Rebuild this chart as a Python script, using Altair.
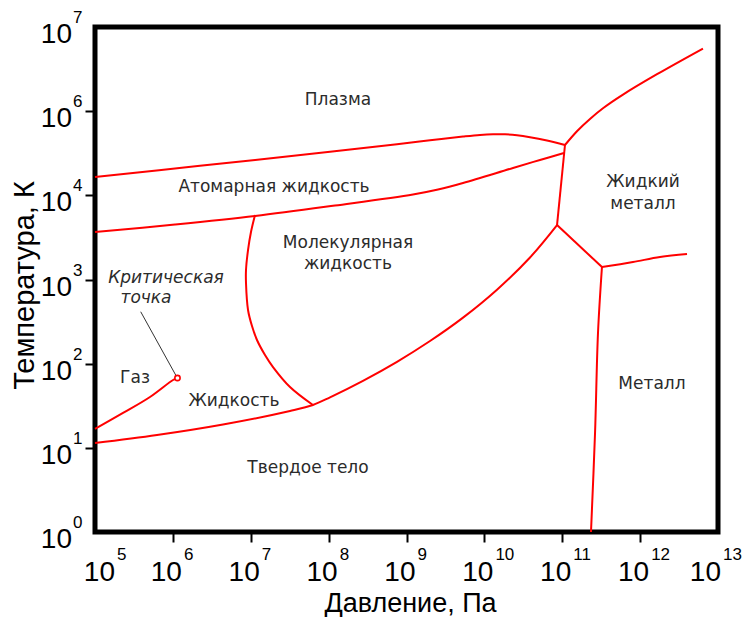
import altair as alt
import pandas as pd

# x: log10 of pressure (Pa); y: position on the temperature axis (one step per labelled tick)
x_tick_exps = [5, 6, 7, 8, 9, 10, 11, 12, 13]
y_tick_pos = [0, 1, 2, 3, 4, 5, 6]
y_tick_exps = [0, 1, 2, 3, 4, 6, 7]

# Phase boundaries
plasma_x = [5.0, 6.348, 8.018, 8.878, 9.302, 9.726, 9.944, 10.111, 10.265, 10.419, 10.586, 10.804, 11.035]
plasma_y = [4.218, 4.351, 4.517, 4.606, 4.655, 4.698, 4.717, 4.725, 4.725, 4.714, 4.691, 4.651, 4.598]

atomic_x = [5.0, 6.027, 7.055, 8.082, 9.083, 9.405, 9.726, 10.368, 10.714, 11.022]
atomic_y = [3.564, 3.653, 3.754, 3.879, 4.010, 4.069, 4.146, 4.325, 4.420, 4.503]

triple_x = [11.035, 10.933]
triple_y = [4.598, 3.647]

hot_metal_x = [11.035, 11.189, 11.356, 11.523, 11.780, 12.217, 12.807]
hot_metal_y = [4.598, 4.762, 4.908, 5.035, 5.197, 5.439, 5.744]

melting_x = [5.0, 5.796, 6.644, 7.504, 7.799, 8.018, 8.441, 8.878, 9.302, 9.726, 10.162, 10.586, 10.933]
melting_y = [1.057, 1.152, 1.277, 1.438, 1.509, 1.600, 1.796, 2.022, 2.269, 2.547, 2.879, 3.262, 3.647]

boiling_x = [5.0, 5.360, 5.706, 6.002, 6.059]
boiling_y = [1.224, 1.414, 1.604, 1.806, 1.830]

molecular_x = [7.055, 7.003, 6.965, 6.939, 6.939, 6.965, 7.016, 7.080, 7.183, 7.286, 7.504, 7.799]
molecular_y = [3.766, 3.564, 3.350, 3.113, 2.958, 2.638, 2.447, 2.281, 2.103, 1.960, 1.723, 1.509]

metal_split_x = [10.933, 11.510]
metal_split_y = [3.647, 3.148]

metal_liquid_x = [11.510, 11.908, 12.255, 12.602]
metal_liquid_y = [3.148, 3.208, 3.267, 3.303]

metal_solid_x = [11.510, 11.459, 11.421, 11.369]
metal_solid_y = [3.148, 2.364, 1.176, 0.0]

critical_x = [6.059]
critical_y = [1.830]

pointer_x = [5.587, 6.045]
pointer_y = [2.617, 1.850]

region_labels = ["Плазма", "Атомарная жидкость", "Молекулярная", "жидкость", "Жидкий",
                 "металл", "Газ", "Жидкость", "Твердое тело", "Металл"]
region_x = [8.120, 7.299, 8.249, 8.249, 12.037, 12.037, 5.514, 6.785, 7.735, 12.152]
region_y = [5.133, 4.099, 3.434, 3.184, 4.158, 3.897, 1.830, 1.556, 0.760, 1.758]

note_labels = ["Критическая", "точка"]
note_x = [5.912, 5.655]
note_y = [3.018, 2.780]

# ---------------------------------------------------------------
segments = {
    "plasma": (plasma_x, plasma_y),
    "atomic": (atomic_x, atomic_y),
    "triple": (triple_x, triple_y),
    "hot_metal": (hot_metal_x, hot_metal_y),
    "melting": (melting_x, melting_y),
    "boiling": (boiling_x, boiling_y),
    "molecular": (molecular_x, molecular_y),
    "metal_split": (metal_split_x, metal_split_y),
    "metal_liquid": (metal_liquid_x, metal_liquid_y),
    "metal_solid": (metal_solid_x, metal_solid_y),
}
rows = []
for name, (xs, ys) in segments.items():
    for i, (a, b) in enumerate(zip(xs, ys)):
        rows.append({"seg": name, "i": i, "x": a, "y": b})
curves = pd.DataFrame(rows)

pointer = pd.DataFrame({"x": pointer_x, "y": pointer_y, "i": list(range(len(pointer_x)))})
critical = pd.DataFrame({"x": critical_x, "y": critical_y})
regions = pd.DataFrame({"x": region_x, "y": region_y, "t": region_labels})
notes = pd.DataFrame({"x": note_x, "y": note_y, "t": note_labels})

xlab = pd.DataFrame({"x": x_tick_exps, "y": [0] * len(x_tick_exps),
                     "b": ["10"] * len(x_tick_exps), "s": [str(e) for e in x_tick_exps]})
ylab = pd.DataFrame({"x": [5] * len(y_tick_pos), "y": y_tick_pos,
                     "b": ["10"] * len(y_tick_pos), "s": [str(e) for e in y_tick_exps]})

AXIS_FONT = "Liberation Sans"

X = alt.X("x:Q", scale=alt.Scale(domain=[5, 13], nice=False, zero=False),
          axis=alt.Axis(values=x_tick_exps[1:-1], labels=False, ticks=True, tickSize=10,
                        tickWidth=2, tickColor="black", domain=False, grid=False,
                        title="Давление, Па", titleFont=AXIS_FONT, titleFontSize=27,
                        titleFontWeight="normal", titleColor="black", titleX=315, titleY=79,
                        titleBaseline="alphabetic", titleAlign="center"))
Y = alt.Y("y:Q", scale=alt.Scale(domain=[0, 6], nice=False, zero=False),
          axis=alt.Axis(values=y_tick_pos[1:-1], labels=False, ticks=True, tickSize=10,
                        tickWidth=2, tickColor="black", domain=False, grid=False,
                        title="Температура, К", titleFont=AXIS_FONT, titleFontSize=29,
                        titleFontWeight="normal", titleColor="black", titleAngle=270,
                        titleX=-62, titleY=258, titleBaseline="alphabetic", titleAlign="center"))

lines = alt.Chart(curves).mark_line(color="#ff0000", strokeWidth=2, interpolate="catmull-rom").encode(
    x=X, y=Y, detail="seg:N", order="i:Q")

ptr = alt.Chart(pointer).mark_line(color="#333333", strokeWidth=1).encode(x=X, y=Y, order="i:Q")

crit = alt.Chart(critical).mark_point(shape="circle", size=28, filled=False, stroke="#ff0000",
                                      strokeWidth=1.6, fill="white", fillOpacity=1, opacity=1).encode(x=X, y=Y)

reg = alt.Chart(regions).mark_text(font="DejaVu Sans", fontSize=17, color="#2b2b2b",
                                   align="center", baseline="middle").encode(x=X, y=Y, text="t:N")

note = alt.Chart(notes).mark_text(font="DejaVu Sans", fontSize=17, fontStyle="italic", color="#2b2b2b",
                                  align="center", baseline="middle").encode(x=X, y=Y, text="t:N")


def xlabels(flt, dx):
    base = alt.Chart(xlab).transform_filter(flt).mark_text(
        font=AXIS_FONT, fontSize=28, color="black", align="right",
        baseline="alphabetic", dx=dx, dy=49).encode(x=X, y=Y, text="b:N")
    sup = alt.Chart(xlab).transform_filter(flt).mark_text(
        font=AXIS_FONT, fontSize=17, color="black", align="left",
        baseline="alphabetic", dx=dx + 2, dy=28).encode(x=X, y=Y, text="s:N")
    return [base, sup]


x_layers = (xlabels("datum.x == 5", 20)
            + xlabels("datum.x > 5 && datum.x < 13", 9)
            + xlabels("datum.x == 13", 3))

yl_base = alt.Chart(ylab).mark_text(font=AXIS_FONT, fontSize=28, color="black", align="right",
                                    baseline="alphabetic", dx=-23, dy=16).encode(x=X, y=Y, text="b:N")
yl_sup = alt.Chart(ylab).mark_text(font=AXIS_FONT, fontSize=17, color="black", align="left",
                                   baseline="alphabetic", dx=-22, dy=-4).encode(x=X, y=Y, text="s:N")

chart = alt.layer(lines, ptr, crit, reg, note, *x_layers, yl_base, yl_sup).properties(
    width=623, height=505,
    padding={"left": 87, "top": 19, "right": 24, "bottom": 85},
    autosize=alt.AutoSizeParams(type="none"),
    background="white",
).configure_view(stroke="black", strokeWidth=5, fill="white")

chart.save("out.html", embed_options={"renderer": "svg", "actions": False})
